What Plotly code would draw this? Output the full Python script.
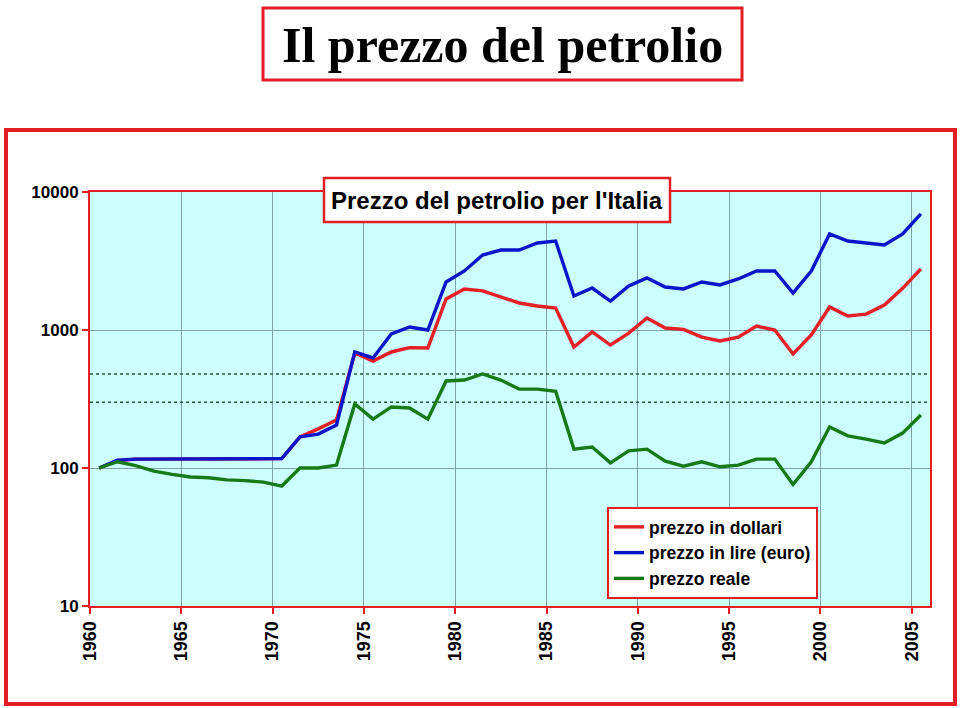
import plotly.graph_objects as go

# anni (punti centrati a metà anno, come nel grafico Excel)
years = list(range(1960, 2006))

prezzo_dollari = [100, 113, 116, 116, 116, 116, 116, 116, 116, 117,
                  117, 168, 192, 223, 681, 596, 693, 745, 740, 1680,
                  1984, 1920, 1734, 1570, 1493, 1442, 753, 968, 778, 950,
                  1221, 1034, 1010, 888, 832, 888, 1068, 1000, 670, 921,
                  1467, 1262, 1304, 1517, 2005, 2766]

prezzo_lire = [100, 114, 116, 116, 116, 116, 116, 116, 116, 116,
               117, 168, 176, 205, 694, 627, 935, 1052, 1000, 2229,
               2677, 3491, 3800, 3800, 4270, 4415, 1762, 2015, 1621, 2086,
               2383, 2050, 1984, 2229, 2120, 2344, 2677, 2677, 1854, 2677,
               4966, 4415, 4270, 4130, 4966, 6934]

prezzo_reale = [100, 111, 104, 95, 90, 86, 85, 82, 81, 79,
                74, 100, 100, 105, 291, 226, 277, 272, 226, 427,
                434, 480, 434, 373, 373, 360, 137, 142, 109, 133,
                137, 112, 103, 111, 102, 105, 116, 116, 76, 111,
                198, 171, 162, 152, 179, 242]

ref_levels = [480, 300]

RED = '#E31E24'
BLUE = '#0A14C8'
GREEN = '#177A17'
FONT = 'Arial, Liberation Sans, sans-serif'

xs = [y + 0.5 for y in years]

fig = go.Figure()
for lvl in ref_levels:
    fig.add_trace(go.Scatter(x=[1960, 2006], y=[lvl, lvl], mode='lines',
                             line=dict(color='#1E5E2E', width=1.5, dash='dot'),
                             showlegend=False, hoverinfo='skip'))
fig.add_trace(go.Scatter(x=xs, y=prezzo_dollari, mode='lines', name='prezzo in dollari',
                         line=dict(color=RED, width=3.4)))
fig.add_trace(go.Scatter(x=xs, y=prezzo_lire, mode='lines', name='prezzo in lire (euro)',
                         line=dict(color=BLUE, width=3.4)))
fig.add_trace(go.Scatter(x=xs, y=prezzo_reale, mode='lines', name='prezzo reale',
                         line=dict(color=GREEN, width=3.4)))

# pixel -> paper
L, R, T, B = 90, 930, 192, 606
def px(x): return (x - L) / (R - L)
def py(y): return (B - y) / (B - T)

fig.update_layout(
    width=960, height=708,
    margin=dict(l=L, r=960 - R, t=T, b=708 - B),
    paper_bgcolor='white', plot_bgcolor='#CCFFFF',
    font=dict(family=FONT, color='black'),
    showlegend=True,
    legend=dict(x=px(607), y=py(507), xanchor='left', yanchor='top',
                bgcolor='white', bordercolor=RED, borderwidth=2,
                font=dict(size=17.5, family=FONT, weight='bold'),
                tracegroupgap=0, itemwidth=30),
    xaxis=dict(range=[1960, 2006], tickmode='array',
               tickvals=list(range(1960, 2006, 5)),
               ticktext=[str(v) for v in range(1960, 2006, 5)],
               tickangle=-90, tickfont=dict(size=18, family=FONT, weight='bold'),
               showgrid=True, gridcolor='#7FA3A8', gridwidth=1,
               showline=True, linecolor=RED, linewidth=2, mirror=True,
               ticks='outside', tickcolor=RED, ticklen=6, tickwidth=2,
               zeroline=False),
    yaxis=dict(type='log', range=[1, 4], dtick=1,
               tickvals=[10, 100, 1000, 10000], ticktext=['10', '100', '1000', '10000'],
               tickfont=dict(size=17, family=FONT, weight='bold'),
               showgrid=True, gridcolor='#7FA3A8', gridwidth=1,
               showline=True, linecolor=RED, linewidth=2, mirror=True,
               ticks='outside', tickcolor=RED, ticklen=6, tickwidth=2,
               zeroline=False),
    shapes=[
        dict(type='rect', xref='paper', yref='paper', x0=px(6), x1=px(955),
             y0=py(704), y1=py(130), line=dict(color=RED, width=4), layer='below'),
        dict(type='rect', xref='paper', yref='paper', x0=px(263), x1=px(742),
             y0=py(80), y1=py(8), line=dict(color=RED, width=3), layer='below'),
        dict(type='rect', xref='paper', yref='paper', x0=px(324), x1=px(670),
             y0=py(222), y1=py(178), line=dict(color=RED, width=2.5),
             fillcolor='white', layer='above'),
    ],
    annotations=[
        dict(text='<b>Il prezzo del petrolio</b>', xref='paper', yref='paper',
             x=px(502), y=py(45), xanchor='center', yanchor='middle', showarrow=False,
             font=dict(size=50, family='Liberation Serif, DejaVu Serif, serif', color='black')),
        dict(text='<b>Prezzo del petrolio per l\'Italia</b>', xref='paper', yref='paper',
             x=px(497), y=py(200), xanchor='center', yanchor='middle', showarrow=False,
             font=dict(size=24, family=FONT, color='black')),
    ],
)

# la pagina di default ha 8px di margine sul body: lo togliamo
fig.write_html("out.html", config={'displayModeBar': False},
               post_script="document.body.style.margin='0';")
